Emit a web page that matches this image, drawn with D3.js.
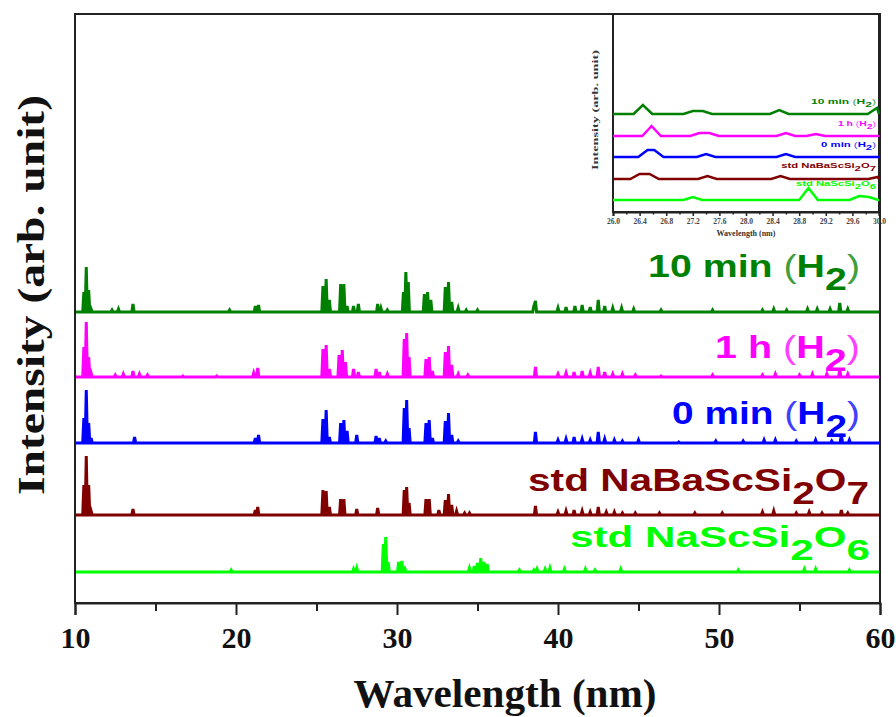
<!DOCTYPE html>
<html>
<head>
<meta charset="utf-8">
<script src="https://cdn.jsdelivr.net/npm/d3@7"></script>
<style>
  body { margin: 0; background: #fff; }
  svg { display: block; }
</style>
</head>
<body>
<svg id="chart" width="896" height="717"></svg>
<script>
// series in stacking order, top to bottom
var seriesColors = ["#008000", "#FF00FF", "#0000FF", "#800000", "#00FF00"];
// label pieces: [text, kind]  n = bold text, p = bracket, s = subscript
var seriesLabels = [
    [["10 min ", "n"], ["(", "p"], ["H", "n"], ["2", "s"], [")", "p"]],
    [["1 h ", "n"], ["(", "p"], ["H", "n"], ["2", "s"], [")", "p"]],
    [["0 min ", "n"], ["(", "p"], ["H", "n"], ["2", "s"], [")", "p"]],
    [["std NaBaScSi", "n"], ["2", "s"], ["O", "n"], ["7", "s"]],
    [["std NaScSi", "n"], ["2", "s"], ["O", "n"], ["6", "s"]]
];
// vertical offset of each trace (arb. unit)
var seriesOffsets = [291, 226, 160, 88, 31];

// main pattern peaks: [wavelength, height]
var peaks10min = [[10.55, 20], [10.7, 45], [10.85, 22], [11.0, 3], [12.3, 2], [12.7, 3], [13.6, 8],
    [19.6, 2], [21.2, 6], [21.4, 7], [25.4, 26], [25.6, 33], [25.8, 12], [26.5, 28], [26.7, 28], [26.9, 6],
    [27.3, 6], [27.6, 8], [28.8, 8], [29.0, 4], [29.4, 2], [30.4, 20], [30.55, 40], [30.7, 30],
    [31.7, 18], [31.9, 20], [32.1, 12], [33.0, 25], [33.2, 30], [33.4, 10], [33.8, 4], [34.3, 2], [35.0, 2],
    [38.5, 6], [38.6, 11], [40.0, 4], [40.5, 5], [41.05, 6], [41.5, 7], [42.0, 5], [42.5, 12], [42.9, 6],
    [43.4, 4], [43.95, 4], [44.7, 3], [46.4, 2], [49.6, 2], [52.7, 2], [53.4, 3], [54.2, 2], [55.5, 3],
    [56.1, 3], [56.9, 3], [57.5, 9], [58.0, 3]];
var peaks1h = [[10.55, 30], [10.7, 55], [10.85, 20], [11.0, 4], [12.5, 2], [13.0, 3], [13.6, 6], [14.0, 3],
    [14.5, 2], [16.7, 1], [18.8, 1], [21.1, 4], [21.35, 9], [25.4, 28], [25.6, 32], [25.8, 8], [26.4, 22],
    [26.6, 27], [26.8, 15], [27.3, 8], [27.6, 5], [28.7, 8], [28.9, 5], [29.4, 3], [30.45, 38], [30.6, 44],
    [30.75, 20], [31.8, 18], [32.0, 20], [32.2, 6], [33.0, 25], [33.2, 31], [33.4, 12], [33.8, 3], [34.4, 2],
    [38.6, 10], [40.0, 3], [40.5, 4], [41.0, 5], [41.5, 6], [42.0, 4], [42.5, 10], [42.9, 5], [43.4, 3],
    [44.0, 3], [44.8, 2], [46.4, 1], [49.6, 2], [52.7, 2], [53.5, 3], [55.0, 2], [55.8, 3], [56.7, 3],
    [57.5, 8], [58.0, 3]];
var peaks0min = [[10.55, 25], [10.7, 53], [10.85, 20], [11.0, 5], [13.7, 6], [21.2, 5], [21.4, 8],
    [25.4, 24], [25.6, 33], [25.8, 6], [26.5, 20], [26.7, 23], [26.9, 12], [27.5, 8], [28.7, 7], [28.9, 5],
    [29.3, 2], [30.45, 35], [30.6, 43], [30.75, 15], [31.8, 20], [32.0, 23], [32.2, 5], [33.0, 22],
    [33.2, 30], [33.4, 8], [33.8, 2], [38.6, 11], [40.0, 3], [40.5, 4], [41.0, 6], [41.5, 4], [42.0, 3],
    [42.5, 11], [42.9, 4], [43.5, 3], [44.0, 2], [45.0, 3], [47.5, 1], [49.8, 2], [51.5, 2], [52.8, 3],
    [53.5, 3], [54.8, 2], [56.0, 3], [57.0, 2], [57.6, 9], [58.1, 3]];
var peaksNaBa = [[10.55, 30], [10.7, 59], [10.85, 30], [11.0, 4], [13.6, 6], [21.2, 5], [21.35, 8],
    [25.4, 25], [25.6, 24], [25.8, 8], [26.5, 16], [26.7, 16], [27.5, 6], [28.8, 7], [30.45, 25], [30.6, 28],
    [30.75, 12], [31.8, 16], [32.0, 16], [32.6, 5], [33.0, 15], [33.2, 21], [33.4, 10], [33.7, 4], [34.2, 2],
    [34.5, 2], [38.6, 9], [40.0, 3], [40.5, 4], [41.0, 5], [41.5, 4], [42.0, 3], [42.5, 8], [43.0, 3],
    [43.5, 3], [44.0, 2], [44.8, 2], [46.3, 2], [48.5, 2], [50.2, 2], [52.7, 3], [53.4, 4], [54.8, 2],
    [55.6, 3], [56.4, 2], [57.6, 5], [58.0, 2]];
var peaksNaSc = [[19.7, 2], [27.3, 3], [27.5, 4], [29.15, 28], [29.3, 35], [29.45, 10], [30.1, 10],
    [30.3, 11], [30.5, 3], [34.5, 4], [34.8, 6], [35.0, 9], [35.2, 14], [35.4, 10], [35.6, 8], [37.6, 2],
    [38.5, 2], [38.7, 3], [39.2, 3], [39.5, 4], [40.4, 3], [41.7, 3], [42.3, 2], [43.9, 3], [51.2, 2],
    [55.3, 3], [56.0, 3], [58.1, 2]];
var mainPeaks = [peaks10min, peaks1h, peaks0min, peaksNaBa, peaksNaSc];

// inset (zoomed region) peaks and offsets
var insetOffsets = [98, 76, 55, 33, 12];
var insetPeaks = [
    [[26.45, 9], [27.2, 3], [27.35, 3], [28.5, 4], [29.97, 6]],
    [[26.58, 10], [27.3, 3], [27.45, 3], [28.6, 3], [29.05, 2]],
    [[26.52, 7], [26.62, 7], [27.4, 3], [28.6, 3]],
    [[26.4, 5], [26.55, 5], [27.42, 3], [28.52, 3], [29.98, 2]],
    [[27.2, 3], [28.94, 12], [29.7, 4], [29.85, 3]]
];

var xMajorTicks = [10, 20, 30, 40, 50, 60];
var xMinorTicks = [15, 25, 35, 45, 55];
var insetMajorTicks = [26.0, 26.4, 26.8, 27.2, 27.6, 28.0, 28.4, 28.8, 29.2, 29.6, 30.0];

var svg = d3.select("#chart");

// main scales
var x = d3.scaleLinear().domain([10, 60]).range([75, 880]);
var y = d3.scaleLinear().domain([0, 589]).range([603, 14]);

// inset scales
var xi = d3.scaleLinear().domain([26, 30]).range([613, 879]);
var yi = d3.scaleLinear().domain([0, 198]).range([212, 14]);

// turn a peak list into a trace: clustered peaks joined, others drop to baseline
function trace(peaks, hw, lo, hi) {
    var pts = [[lo, 0]];
    var prev = null;
    peaks.forEach(function (p) {
        if (prev === null || prev[0] + hw < p[0] - hw) {
            if (prev !== null) pts.push([prev[0] + hw, 0]);
            pts.push([p[0] - hw, 0]);
        }
        pts.push(p);
        prev = p;
    });
    if (prev !== null) pts.push([Math.min(prev[0] + hw, hi), 0]);
    pts.push([hi, 0]);
    return pts;
}

// ---- main traces
mainPeaks.forEach(function (pk, i) {
    var off = seriesOffsets[i];
    var line = d3.line()
        .x(function (d) { return x(d[0]); })
        .y(function (d) { return y(d[1] + off); });
    svg.append("path")
        .datum(trace(pk, 0.07, 10, 60))
        .attr("d", line)
        .attr("fill", "none")
        .attr("stroke", seriesColors[i])
        .attr("stroke-width", 3)
        .attr("stroke-linejoin", "miter");
});

// ---- main frame
svg.append("rect")
    .attr("x", x(10)).attr("y", y(589))
    .attr("width", x(60) - x(10)).attr("height", y(0) - y(589))
    .attr("fill", "none").attr("stroke", "#222").attr("stroke-width", 2);

var axisMajor = d3.axisBottom(x).tickValues(xMajorTicks).tickSize(12).tickPadding(12)
    .tickFormat(d3.format("d"));
var axisMinor = d3.axisBottom(x).tickValues(xMinorTicks).tickSize(8).tickFormat("");

var gx = svg.append("g").attr("transform", "translate(0," + y(0) + ")").call(axisMajor);
svg.append("g").attr("transform", "translate(0," + y(0) + ")").call(axisMinor)
    .call(function (g) { g.select(".domain").remove(); });
svg.selectAll(".tick line").attr("stroke", "#222").attr("stroke-width", 2);
gx.select(".domain").attr("stroke", "#222").attr("stroke-width", 2);
gx.selectAll("text")
    .attr("font-family", "'Liberation Serif', 'Times New Roman', serif")
    .attr("font-weight", "bold").attr("font-size", 30).attr("fill", "#111");

// axis titles
svg.append("text")
    .attr("x", 505).attr("y", 707)
    .attr("text-anchor", "middle")
    .attr("font-family", "'Liberation Serif', 'Times New Roman', serif")
    .attr("font-weight", "bold").attr("font-size", 40).attr("fill", "#111")
    .attr("textLength", 303).attr("lengthAdjust", "spacingAndGlyphs")
    .text("Wavelength (nm)");

svg.append("text")
    .attr("transform", "translate(44,295) rotate(-90)")
    .attr("text-anchor", "middle")
    .attr("font-family", "'Liberation Serif', 'Times New Roman', serif")
    .attr("font-weight", "bold").attr("font-size", 38).attr("fill", "#111")
    .attr("textLength", 400).attr("lengthAdjust", "spacingAndGlyphs")
    .text("Intensity (arb. unit)");

// ---- labels built from pieces, then stretched to the wanted width
function addLabel(parent, parts, right, base, size, color, width, subShift) {
    var g = parent.append("g");
    var t = g.append("text")
        .attr("x", right).attr("y", base)
        .attr("text-anchor", "end")
        .attr("font-family", "Arial, 'Liberation Sans', sans-serif")
        .attr("font-size", size).attr("fill", color);
    var down = false;
    parts.forEach(function (p) {
        var dy = 0;
        if (p[1] === "s" && !down) { dy = subShift; down = true; }
        else if (p[1] !== "s" && down) { dy = -subShift; down = false; }
        t.append("tspan")
            .attr("dy", dy)
            .attr("font-weight", p[1] === "p" ? "normal" : "bold")
            .attr("opacity", p[1] === "p" ? 0.75 : 1)
            .text(p[0]);
    });
    var w = t.node().getComputedTextLength();
    var sx = width / w;
    g.attr("transform", "translate(" + right + ",0) scale(" + sx + ",1) translate(" + (-right) + ",0)");
    return g;
}

var labelRight = [860, 860, 860, 869, 870];
var labelBase = [277, 358, 424, 491, 547];
var labelWidth = [212, 145, 188, 341, 300];
var labelSize = [32, 32, 32, 32, 30];
seriesLabels.forEach(function (parts, i) {
    addLabel(svg, parts, labelRight[i], labelBase[i], labelSize[i], seriesColors[i], labelWidth[i], 13);
});

// ---- inset
var inset = svg.append("g");
inset.append("rect")
    .attr("x", xi(26)).attr("y", yi(198))
    .attr("width", xi(30) - xi(26)).attr("height", yi(0) - yi(198))
    .attr("fill", "#fff").attr("stroke", "#222").attr("stroke-width", 2);

insetPeaks.forEach(function (pk, i) {
    var off = insetOffsets[i];
    var line = d3.line()
        .x(function (d) { return xi(d[0]); })
        .y(function (d) { return yi(d[1] + off); });
    inset.append("path")
        .datum(trace(pk, 0.14, 26, 30))
        .attr("d", line)
        .attr("fill", "none")
        .attr("stroke", seriesColors[i])
        .attr("stroke-width", 2.5);
});

var insetAxis = d3.axisBottom(xi).tickValues(insetMajorTicks).tickSize(4).tickPadding(3)
    .tickFormat(d3.format(".1f"));
var insetMinor = d3.axisBottom(xi)
    .tickValues(insetMajorTicks.slice(1).map(function (d) { return d - 0.2; }))
    .tickSize(2.5).tickFormat("");
var gi = inset.append("g").attr("transform", "translate(0," + yi(0) + ")").call(insetAxis);
inset.append("g").attr("transform", "translate(0," + yi(0) + ")").call(insetMinor)
    .call(function (g) { g.select(".domain").remove(); });
inset.selectAll(".tick line").attr("stroke", "#222").attr("stroke-width", 1.5);
gi.select(".domain").attr("stroke", "#222").attr("stroke-width", 2);
gi.selectAll("text")
    .attr("font-family", "'Liberation Serif', serif")
    .attr("font-weight", "bold").attr("font-size", 7.5).attr("fill", "#444");

inset.append("text")
    .attr("x", xi(28)).attr("y", 236)
    .attr("text-anchor", "middle")
    .attr("font-family", "'Liberation Serif', serif")
    .attr("font-weight", "bold").attr("font-size", 8).attr("fill", "#333")
    .text("Wavelength (nm)");

inset.append("text")
    .attr("transform", "translate(598,110) rotate(-90)")
    .attr("text-anchor", "middle")
    .attr("font-family", "'Liberation Serif', serif")
    .attr("font-weight", "bold").attr("font-size", 9).attr("fill", "#333")
    .attr("textLength", 120).attr("lengthAdjust", "spacingAndGlyphs")
    .text("Intensity (arb. unit)");

var insetLabelBase = [104, 126, 147, 168, 186];
var insetLabelWidth = [65, 38, 55, 95, 80];
seriesLabels.forEach(function (parts, i) {
    addLabel(inset, parts, 876, insetLabelBase[i], 8, seriesColors[i], insetLabelWidth[i], 3);
});
</script>
</body>
</html>
